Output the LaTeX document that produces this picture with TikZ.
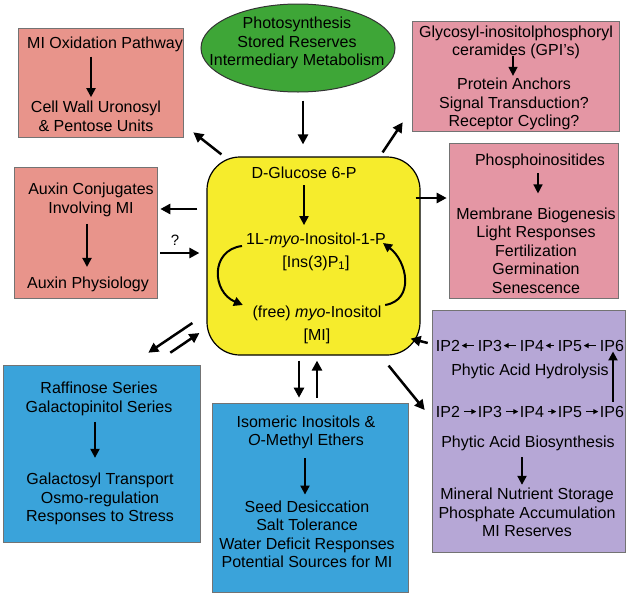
\documentclass[tikz,border=0pt]{standalone}
\usepackage{fontspec}
\setmainfont{Liberation Sans}
\usetikzlibrary{arrows.meta,shapes.geometric}
\definecolor{salmon}{HTML}{E8948B}
\definecolor{rosy}{HTML}{E496A4}
\definecolor{skyblue}{HTML}{3AA3DA}
\definecolor{lemon}{HTML}{F6EC2C}
\definecolor{leaf}{HTML}{3EA637}
\definecolor{lilac}{HTML}{B6A7D6}
\tikzset{
	box/.style={draw=black!55, line width=0.6pt, inner sep=0pt},
	lbl/.style={inner sep=0pt, align=center, font=\fontsize{16}{18.5}\selectfont},
	arr/.style={line width=2.5pt, -{Triangle[length=10pt,width=10pt]}},
	inarr/.style={line width=2pt, -{Triangle[length=9pt,width=9pt]}},
	iparr/.style={line width=1pt, -{Triangle[length=5pt,width=5pt]}, shorten <=4pt, shorten >=1.5pt}
}

\begin{document}
\begin{tikzpicture}[x=1pt,y=-1pt]
			%%%%% START %%%%%
			\useasboundingbox (0,0) rectangle (629,600);
			
			\node[box, fill=salmon, minimum width=165pt, minimum height=109pt] (miox) at (100.5,82.5) {};
			\node[box, fill=salmon, minimum width=143pt, minimum height=131pt] (auxin) at (85.5,232.5) {};
			\node[box, fill=rosy, minimum width=207pt, minimum height=110pt] (glyco) at (515.5,76) {};
			\node[box, fill=rosy, minimum width=169pt, minimum height=155pt] (phospho) at (533.5,220.5) {};
			\node[box, fill=lilac, minimum width=193pt, minimum height=242pt] (phytic) at (528.5,431) {};
			\node[box, fill=skyblue, minimum width=197pt, minimum height=177pt] (raff) at (101.5,453.5) {};
			\node[box, fill=skyblue, minimum width=196pt, minimum height=189pt] (isomer) at (310,497.5) {};
			\node[draw, line width=1.2pt, fill=lemon, rounded corners=33pt, minimum width=213pt, minimum height=198pt] (core) at (313.5,256) {};
			\node[ellipse, draw=black!80, line width=1pt, fill=leaf, inner sep=0pt, minimum width=194pt, minimum height=88pt] (source) at (298,48) {};
			
			\node[lbl] (sourceT) at (297,43) {Photosynthesis\\Stored Reserves\\Intermediary Metabolism};
			
			\node[lbl] (mioxT) at (105,44) {MI Oxidation Pathway};
			\node[lbl] (mioxB) at (96,116.5) {Cell Wall Uronosyl\\\& Pentose Units};
			\draw[inarr, shorten <=5pt, shorten >=4pt] ([xshift=-14pt]mioxT.south) -- ([xshift=-14pt]mioxT.south |- mioxB.north);
			
			\node[lbl] (auxT) at (91,200) {Auxin Conjugates\\Involving MI};
			\node[lbl] (auxB) at (88,284.6) {Auxin Physiology};
			\draw[inarr, shorten <=7pt, shorten >=10pt] ([xshift=-4pt]auxT.south) -- ([xshift=-4pt]auxT.south |- auxB.north);
			
			\node[lbl] (glyT) at (516,42.5) {Glycosyl-inositolphosphoryl\\ceramides (GPI's)};
			\node[lbl] (glyB) at (514,104) {Protein Anchors\\Signal Transduction?\\Receptor Cycling?};
			\draw[inarr, line width=1.5pt, shorten <=-3pt, shorten >=2pt] ([xshift=-3pt]glyT.south) -- ([xshift=-3pt]glyT.south |- glyB.north);
			
			\node[lbl] (phoT) at (540,161.6) {Phosphoinositides};
			\node[lbl] (phoB) at (536,250.5) {Membrane Biogenesis\\Light Responses\\Fertilization\\Germination\\Senescence};
			\draw[inarr, line width=1.5pt, shorten <=4pt, shorten >=14pt] ([xshift=-2pt]phoT.south) -- ([xshift=-2pt]phoT.south |- phoB.north);
			
			\node[lbl] (glc) at (304,173) {D-Glucose 6-P};
			\node[lbl] (ins) at (316,252) {1L-\textit{myo}-Inositol-1-P\\[4pt]{[}Ins(3)P\textsubscript{1}{]}};
			\node[lbl] (free) at (317,325) {(free) \textit{myo}-Inositol\\[4.5pt]{[}MI{]}};
			\draw[inarr, shorten <=6pt, shorten >=8pt] (glc.south) -- (glc.south |- ins.north);
			\draw[inarr] ([shift={(-4,-6)}]ins.west) .. controls +(-32,4) and +(-31,-13) .. ([shift={(-9.5,-20)}]free.west);
			\draw[inarr] ([shift={(3.5,-20)}]free.east) .. controls +(30,-5) and +(24,18) .. ([shift={(-3,-9)}]ins.east);
			
			\node[lbl] (hyd2) at (448,345.6) {IP2};
			\node[lbl] (hyd3) at (490,345.6) {IP3};
			\node[lbl] (hyd4) at (532,345.6) {IP4};
			\node[lbl] (hyd5) at (570,345.6) {IP5};
			\node[lbl] (hyd6) at (612,345.6) {IP6};
			\draw[iparr] (hyd3) -- (hyd2);
			\draw[iparr] (hyd4) -- (hyd3);
			\draw[iparr] (hyd5) -- (hyd4);
			\draw[iparr] (hyd6) -- (hyd5);
			\node[lbl] (hyd) at (530,371.6) {Phytic Acid Hydrolysis};
			
			\node[lbl] (syn2) at (448,411.6) {IP2};
			\node[lbl] (syn3) at (490,411.6) {IP3};
			\node[lbl] (syn4) at (532,411.6) {IP4};
			\node[lbl] (syn5) at (570,411.6) {IP5};
			\node[lbl] (syn6) at (612,411.6) {IP6};
			\draw[iparr] (syn2) -- (syn3);
			\draw[iparr] (syn3) -- (syn4);
			\draw[iparr] (syn4) -- (syn5);
			\draw[iparr] (syn5) -- (syn6);
			\draw[inarr, shorten <=4pt, shorten >=0pt] ([xshift=1pt]syn6.north) -- ([xshift=1pt]hyd6.south);
			\node[lbl] (syn) at (528,443.6) {Phytic Acid Biosynthesis};
			\node[lbl] (store) at (527,512.4) {Mineral Nutrient Storage\\Phosphate Accumulation\\MI Reserves};
			\draw[inarr, shorten <=6pt, shorten >=3pt] ([xshift=-6pt]syn.south) -- ([xshift=-6pt]syn.south |- store.north);
			
			\node[lbl] (raffT) at (99,399) {Raffinose Series\\Galactopinitol Series};
			\node[lbl] (raffB) at (100,499) {Galactosyl Transport\\Osmo-regulation\\Responses to Stress};
			\draw[inarr, shorten <=6pt, shorten >=15pt] ([xshift=-4pt]raffT.south) -- ([xshift=-4pt]raffT.south |- raffB.north);
			
			\node[lbl] (isoT) at (306,432.4) {Isomeric Inositols \&\\\textit{O}-Methyl Ethers};
			\node[lbl] (isoB) at (307,534.4) {Seed Desiccation\\Salt Tolerance\\Water Deficit Responses\\Potential Sources for MI};
			\draw[inarr, shorten <=9pt, shorten >=6pt] ([xshift=-1pt]isoT.south) -- ([xshift=-1pt]isoT.south |- isoB.north);
			
			\draw[arr] ([shift={(5,8)}]source.south) -- ([shift={(-10.5,-12)}]core.north);
			\draw[arr] ([shift={(15,-2)}]core.north west) -- ([shift={(10,-5)}]miox.south east);
			\draw[arr] ([shift={(-38,-4)}]core.north east) -- ([shift={(-9,-9)}]glyco.south west);
			\draw[arr] ([shift={(-9,-47)}]core.west) -- ([shift={(3,-23.5)}]auxin.east);
			\draw[arr] ([shift={(3,20.5)}]auxin.east) -- node[pos=0.375, above=6pt, inner sep=0pt, font=\fontsize{15}{17}\selectfont] (query) {?} ([shift={(-7,-3)}]core.west);
			\draw[arr] ([shift={(-5,-58)}]core.east) -- ([shift={(-2,-22.5)}]phospho.west);
			\draw[arr] ([shift={(-4,-88)}]phytic.west) -- ([shift={(-10,-17)}]core.south east);
			\draw[arr] ([shift={(-32,10)}]core.south east) -- ([shift={(-7,-21)}]phytic.west);
			\draw[arr] ([shift={(-14.5,5)}]core.south) -- ([shift={(-11,-5)}]isomer.north);
			\draw[arr] ([shift={(7,-5)}]isomer.north) -- ([shift={(3.5,5)}]core.south);
			\draw[arr] ([shift={(-14,67)}]core.west) -- ([shift={(-52,-12)}]raff.north east);
			\draw[arr] ([shift={(-30,-12)}]raff.north east) -- ([shift={(-7,77)}]core.west);
			
			%%%%% END %%%%%
\end{tikzpicture}
\end{document}
